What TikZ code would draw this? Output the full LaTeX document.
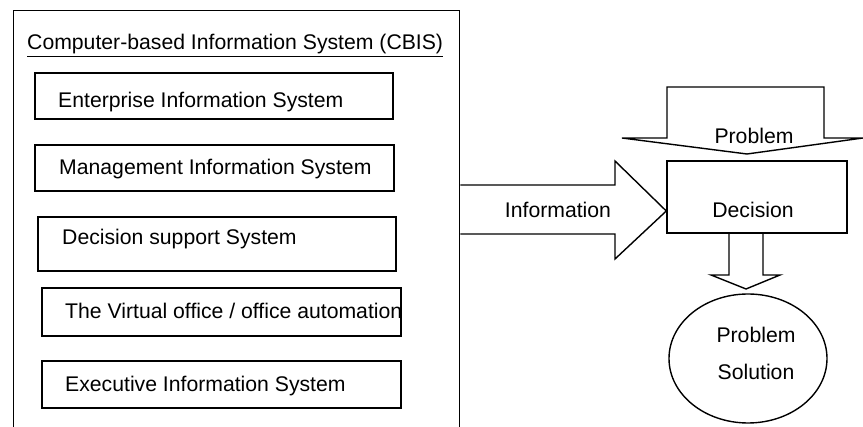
\documentclass[tikz,border=0pt]{standalone}
\usepackage{fontspec}
\setmainfont{Liberation Sans}
\usetikzlibrary{shapes.geometric}

\tikzset{
  sysbox/.style={draw, line width=1.4pt, rectangle, inner sep=0pt},
  lbl/.style={anchor=base west, inner sep=0pt, font=\fontsize{21.2}{25}\selectfont},
  clbl/.style={anchor=base, inner sep=0pt, font=\fontsize{21.2}{25}\selectfont},
  blk/.style={draw, line width=1.4pt, line join=miter},
}

\begin{document}
\begin{tikzpicture}[x=1pt,y=-1pt]
  \useasboundingbox (0,0) rectangle (863,427);
  % CBIS frame, runs off the bottom of the page
  \node[sysbox, anchor=north west, minimum width=446pt, minimum height=440pt] (cbis) at (13,10) {};
  \node[lbl] (cbistitle) at (27,50) {\underline{Computer-based Information System (CBIS)}};
  % the five systems
  \node[sysbox, minimum width=358pt, minimum height=46pt] (eis) at (214,96) {};
  \node[sysbox, minimum width=359pt, minimum height=46pt] (mis) at (214.5,168) {};
  \node[sysbox, minimum width=358pt, minimum height=54pt] (dss) at (217,244) {};
  \node[sysbox, minimum width=359pt, minimum height=48pt] (voa) at (221.5,312) {};
  \node[sysbox, minimum width=359pt, minimum height=47pt] (exec) at (221.5,384.5) {};
  \node[lbl] (eistext) at (58,108) {Enterprise Information System};
  \node[lbl] (mistext) at (59,175) {Management Information System};
  \node[lbl] (dsstext) at (62,245) {Decision support System};
  \node[lbl] (voatext) at (65,319) {The Virtual office / office automation};
  \node[lbl] (exectext) at (65,392) {Executive Information System};
  % decision side
  \node[sysbox, minimum width=180pt, minimum height=72pt] (dec) at (757,197) {};
  \node[sysbox, ellipse, minimum width=158pt, minimum height=129pt] (sol) at (748,358.5) {};
  % block arrows
  \draw[blk] (cbis.east |- 0,185) -- (615,185) -- (615,161) -- (dec.west |- 0,211)
     -- (615,259) -- (615,234) -- (cbis.east |- 0,234);
  \draw[blk] (667,87) -- (824,87) -- (824,138) -- (863,138) -- (747,154)
     -- (622,138) -- (667,138) -- cycle;
  \draw[blk] (729,0 |- dec.south) -- (729,275) -- (711,275) -- (746,289)
     -- (780,275) -- (763,275) -- (763,0 |- dec.south);
  \node[clbl] (info) at (558,218) {Information};
  \node[clbl] (prob) at (754,144) {Problem};
  \node[clbl] (dectext) at (753,218) {Decision};
  \node[clbl] (soltop) at (756,343) {Problem};
  \node[clbl] (solbot) at (756,380) {Solution};
\end{tikzpicture}
\end{document}
